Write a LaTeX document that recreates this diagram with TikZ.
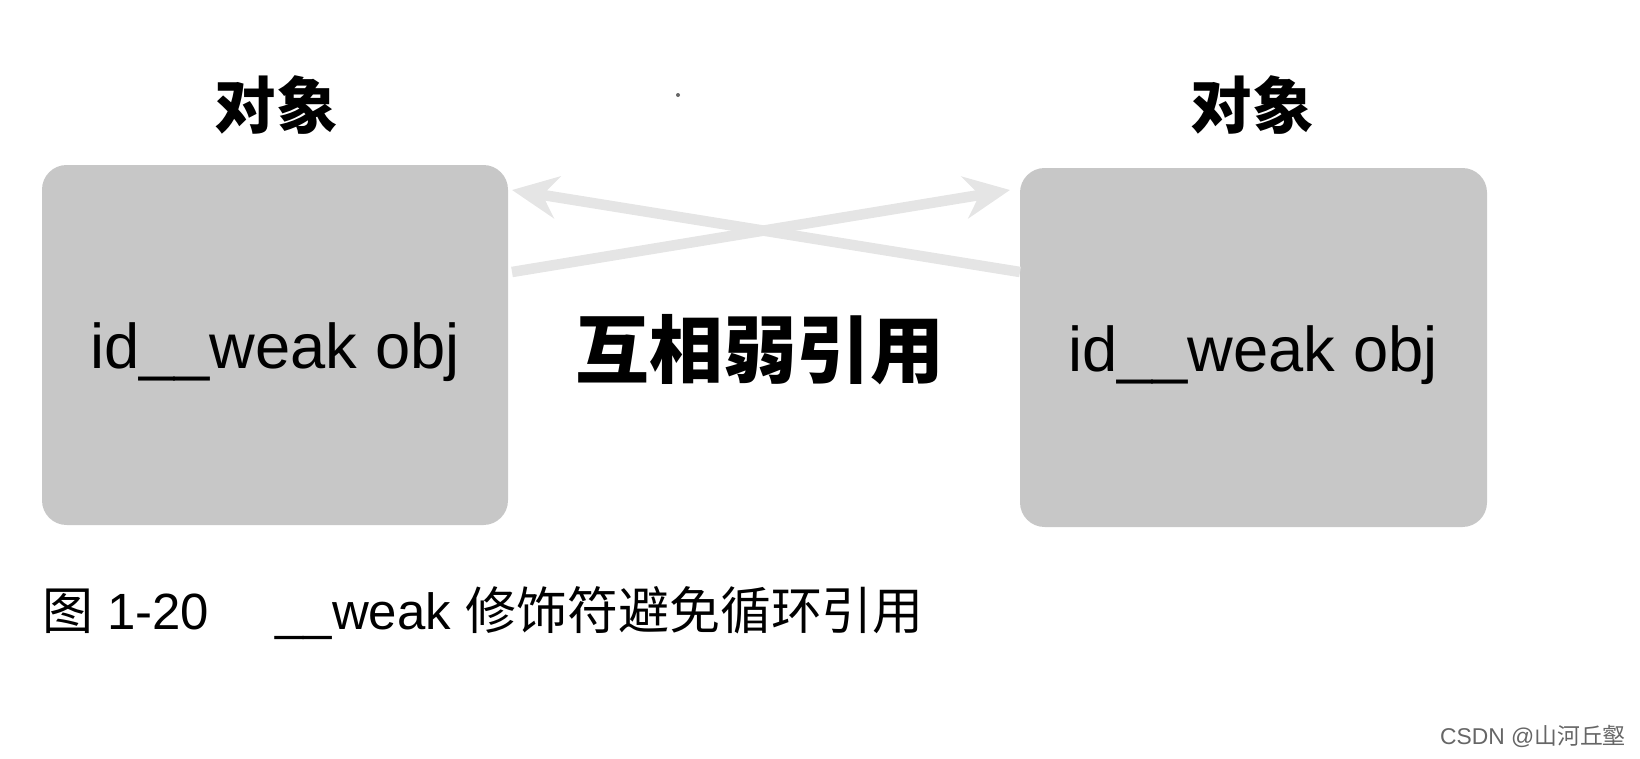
\documentclass[tikz,border=0pt]{standalone}
\usepackage{fontspec}
\usetikzlibrary{arrows.meta}
\setmainfont{Liberation Sans}
\newfontfamily\cjk{Noto Sans CJK SC}
\begin{document}
\begin{tikzpicture}[x=0.02cm,y=-0.02cm,
  objbox/.style={fill=black!22,rounded corners=14pt,inner sep=0pt},
  weakarrow/.style={draw=black!10,line width=6pt,-{Stealth[length=26pt,width=24pt]}},
  lbl/.style={font=\fontsize{36}{40}\selectfont}]
\useasboundingbox (0,0) rectangle (1640,758);
\fill[objbox] (42,165) rectangle (508,525);
\fill[objbox] (1020,168) rectangle (1487,527);
\node[lbl] (lt) at (275,352) {id\_\_weak obj};
\node[lbl] (rt) at (1253,355) {id\_\_weak obj};
\node[font=\cjk\bfseries\fontsize{35}{40}\selectfont] (lh) at (276,105) {对象};
\node[font=\cjk\bfseries\fontsize{35}{40}\selectfont] (rh) at (1252,105) {对象};
\node[font=\cjk\bfseries\fontsize{42}{46}\selectfont] (mid) at (760,350) {互相弱引用};
\coordinate (a1) at (512,272); \coordinate (a2) at (1010,190);
\coordinate (b1) at (1020,272); \coordinate (b2) at (512,190);
\draw[weakarrow] (a1) -- (a2);
\draw[weakarrow] (b1) -- (b2);
\fill[black!60] (678,95) circle (2);
\node[anchor=west,font=\fontsize{29}{32}\selectfont] (cap) at (36,613) {{\cjk 图} 1-20\hspace{1.3em}\_\_weak {\cjk 修饰符避免循环引用}};
\node[anchor=east,text=black!60,font=\fontsize{13}{15}\selectfont] (wm) at (1632,736) {CSDN @{\cjk 山河丘壑}};
\end{tikzpicture}
\end{document}
